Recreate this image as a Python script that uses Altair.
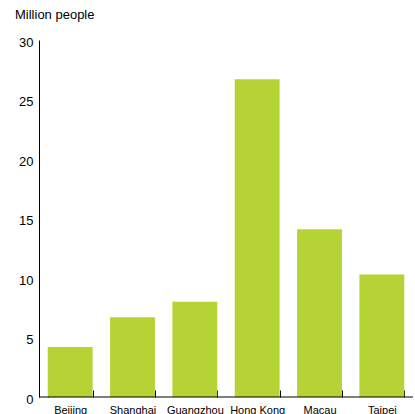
import altair as alt
import pandas as pd

cities = ["Beijing", "Shanghai", "Guangzhou", "Hong Kong", "Macau", "Taipei"]
values = [4.2, 6.7, 8.0, 26.7, 14.1, 10.3]
y_ticks = [0, 5, 10, 15, 20, 25, 30]

df = pd.DataFrame({"city": cities, "value": values})
FONT = "Liberation Sans"

bars = alt.Chart(df).mark_bar(color="#b5d335").encode(
    x=alt.X("city:N", sort=cities,
            scale=alt.Scale(paddingInner=0.28, paddingOuter=0.14),
            axis=alt.Axis(title=None, domain=False, tickBand="extent", ticks=True,
                          tickSize=7, tickColor="black", tickWidth=1, offset=-7,
                          labelAngle=0, labelFontSize=11, labelFont=FONT,
                          labelColor="black", labelPadding=7)),
    y=alt.Y("value:Q", scale=alt.Scale(domain=[0, 30], nice=False),
            axis=alt.Axis(title=None, values=y_ticks, ticks=False, grid=False,
                          domain=True, domainColor="black", domainWidth=1,
                          labelFontSize=13, labelFont=FONT, labelColor="black",
                          labelPadding=6, labelOffset=2)),
)

base = alt.Chart(pd.DataFrame({"y": [0]})).mark_rule(color="black", strokeWidth=1).encode(
    y=alt.Y("y:Q")
)

chart = alt.layer(bars, base).properties(
    width=374, height=357,
    autosize=alt.AutoSizeParams(type="none"),
    padding={"left": 39, "top": 40, "right": 2, "bottom": 17},
    title=alt.TitleParams("Million people", anchor="start", frame="group",
                          dx=-24, offset=14, fontSize=13, font=FONT,
                          fontWeight="normal", color="black"),
).configure_view(stroke=None)

chart.save("out.html", embed_options={"renderer": "svg", "actions": False})
